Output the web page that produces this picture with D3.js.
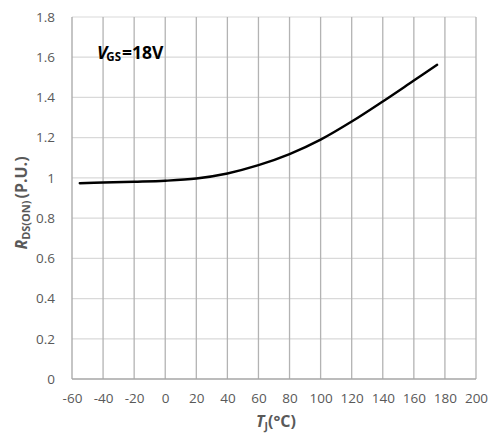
<!DOCTYPE html>
<html>
<head>
<meta charset="utf-8">
<script src="https://cdn.jsdelivr.net/npm/d3@7"></script>
<style>
  html, body { margin: 0; padding: 0; background: #fff; }
  svg { display: block; }
  text { font-family: "Open Sans", "Noto Sans", sans-serif; }
</style>
</head>
<body>
<svg id="chart" width="491" height="438"></svg>
<script>
// Junction temperature (°C) and normalised on-resistance
const tempC = [-55, -40, -20, 0, 20, 40, 60, 80, 100, 120, 140, 160, 175];
const rdsOn = [0.973, 0.977, 0.981, 0.986, 0.997, 1.022, 1.063, 1.118, 1.19, 1.28, 1.38, 1.484, 1.562];

const xTicks = [-60, -40, -20, 0, 20, 40, 60, 80, 100, 120, 140, 160, 180, 200];
const yTicks = [0, 0.2, 0.4, 0.6, 0.8, 1, 1.2, 1.4, 1.6, 1.8];

const svg = d3.select("#chart");
const margin = { left: 72, right: 15, top: 17, bottom: 59 };
const W = 491, H = 438;

const x = d3.scaleLinear().domain([-60, 200]).range([margin.left, W - margin.right]);
const y = d3.scaleLinear().domain([0, 1.8]).range([H - margin.bottom, margin.top]);

// horizontal grid (light)
svg.append("g")
  .selectAll("line").data(yTicks.filter(d => d > 0)).join("line")
  .attr("x1", x(-60)).attr("x2", x(200))
  .attr("y1", d => y(d)).attr("y2", d => y(d))
  .attr("stroke", "#d9d9d9").attr("stroke-width", 1.2);

// vertical grid (darker)
svg.append("g")
  .selectAll("line").data(xTicks.filter(d => d > -60)).join("line")
  .attr("x1", d => x(d)).attr("x2", d => x(d))
  .attr("y1", y(0)).attr("y2", y(1.8))
  .attr("stroke", "#b3b3b3").attr("stroke-width", 1.3);

// axis lines
svg.append("line")
  .attr("x1", x(-60)).attr("x2", x(-60)).attr("y1", y(0)).attr("y2", y(1.8))
  .attr("stroke", "#a6a6a6").attr("stroke-width", 1.3);
svg.append("line")
  .attr("x1", x(-60)).attr("x2", x(200)).attr("y1", y(0)).attr("y2", y(0))
  .attr("stroke", "#a6a6a6").attr("stroke-width", 1.3);

// tick labels via d3 axes (plain hyphen for negatives)
const xAxis = d3.axisBottom(x).tickValues(xTicks).tickSize(0).tickPadding(14).tickFormat(d => String(d));
const gx = svg.append("g").attr("transform", `translate(0,${y(0)})`).call(xAxis);
gx.select(".domain").remove();
gx.selectAll("text").attr("font-size", 13.5).attr("fill", "#595959")
  .attr("font-family", "'Open Sans', sans-serif");

const yAxis = d3.axisLeft(y).tickValues(yTicks).tickSize(0).tickPadding(17).tickFormat(d => String(+d.toFixed(1)));
const gy = svg.append("g").attr("transform", `translate(${x(-60)},0)`).call(yAxis);
gy.select(".domain").remove();
gy.selectAll("text").attr("font-size", 13.5).attr("fill", "#595959")
  .attr("font-family", "'Open Sans', sans-serif");

// curve
const line = d3.line()
  .x((d, i) => x(tempC[i]))
  .y(d => y(d))
  .curve(d3.curveCatmullRom.alpha(0.5));
svg.append("path")
  .attr("d", line(rdsOn))
  .attr("fill", "none")
  .attr("stroke", "#000")
  .attr("stroke-width", 2.4)
  .attr("stroke-linecap", "round");

// annotation
const ann = svg.append("text").attr("x", 97).attr("y", 59)
  .attr("font-size", 17.5).attr("font-weight", "bold").attr("fill", "#000");
ann.append("tspan").attr("font-style", "italic").text("V");
ann.append("tspan").attr("font-size", 11.5).attr("dy", 1.5).attr("dx", -1).text("GS");
ann.append("tspan").attr("dy", -1.5).attr("dx", 1).text("=18V");

// x-axis title
const xt = svg.append("text").attr("x", 276).attr("y", 427).attr("text-anchor", "middle")
  .attr("font-size", 16).attr("font-weight", "bold").attr("fill", "#595959");
xt.append("tspan").attr("font-style", "italic").text("T");
xt.append("tspan").attr("font-size", 10.5).attr("dy", 3).text("J");
xt.append("tspan").attr("dy", -3).text("(°C)");

// y-axis title
const yt = svg.append("text")
  .attr("transform", `translate(27,${(y(0) + y(1.8)) / 2 + 5}) rotate(-90)`)
  .attr("text-anchor", "middle")
  .attr("font-size", 16).attr("font-weight", "bold").attr("fill", "#595959");
yt.append("tspan").attr("font-style", "italic").text("R");
yt.append("tspan").attr("font-size", 11).attr("dy", 3).text("DS(ON)");
yt.append("tspan").attr("dy", -3).attr("dx", 2).text("(P.U.)");
</script>
</body>
</html>
